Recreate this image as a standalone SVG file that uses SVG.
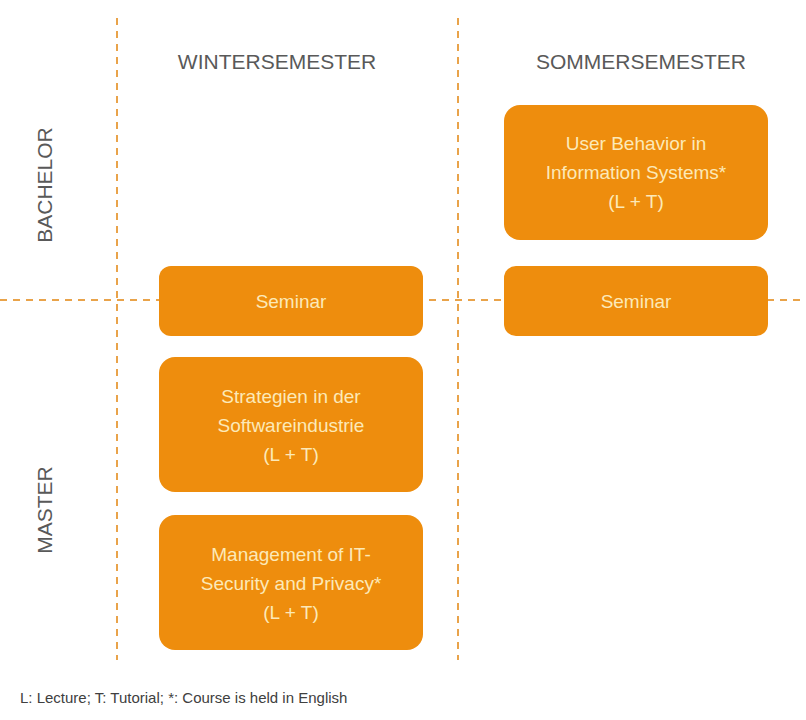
<svg xmlns="http://www.w3.org/2000/svg" width="806" height="720" viewBox="0 0 806 720">
<style>
.d{stroke:#E9A34A;stroke-width:2;stroke-dasharray:7,6;fill:none}
.b{fill:#EE8D0D}
.t{font-family:"Liberation Sans",Arial,sans-serif;font-size:19px;fill:#FCE9B8;text-anchor:middle}
.h{font-family:"Liberation Sans",Arial,sans-serif;font-size:21px;fill:#595959;text-anchor:middle}
</style>
<rect width="806" height="720" fill="#fff"/>
<g id="connectors">
<line class="d" x1="117" y1="18" x2="117" y2="660"/>
<line class="d" x1="458" y1="18" x2="458" y2="660"/>
<line class="d" x1="0" y1="300" x2="806" y2="300"/>
</g>
<text class="h" x="277" y="69">WINTERSEMESTER</text>
<text class="h" x="641" y="69">SOMMERSEMESTER</text>
<text class="h" transform="translate(52,185) rotate(-90)">BACHELOR</text>
<text class="h" transform="translate(52,510) rotate(-90)">MASTER</text>
<g id="ubis"><rect class="b" x="504" y="105" width="264" height="135" rx="16"/>
<text class="t" x="636" y="150">User Behavior in</text><text class="t" x="636" y="179">Information Systems*</text><text class="t" x="636" y="208">(L + T)</text></g>
<g id="seminar-w"><rect class="b" x="159" y="266" width="264" height="70" rx="12"/><text class="t" x="291" y="308">Seminar</text></g>
<g id="seminar-s"><rect class="b" x="504" y="266" width="264" height="70" rx="12"/><text class="t" x="636" y="308">Seminar</text></g>
<g id="strat"><rect class="b" x="159" y="357" width="264" height="135" rx="16"/>
<text class="t" x="291" y="403">Strategien in der</text><text class="t" x="291" y="432">Softwareindustrie</text><text class="t" x="291" y="461">(L + T)</text></g>
<g id="mgmt"><rect class="b" x="159" y="515" width="264" height="135" rx="16"/>
<text class="t" x="291" y="561">Management of IT-</text><text class="t" x="291" y="590">Security and Privacy*</text><text class="t" x="291" y="619">(L + T)</text></g>
<text x="20" y="703" font-family="Liberation Sans,Arial,sans-serif" font-size="15" fill="#404040">L: Lecture; T: Tutorial; *: Course is held in English</text>
</svg>
